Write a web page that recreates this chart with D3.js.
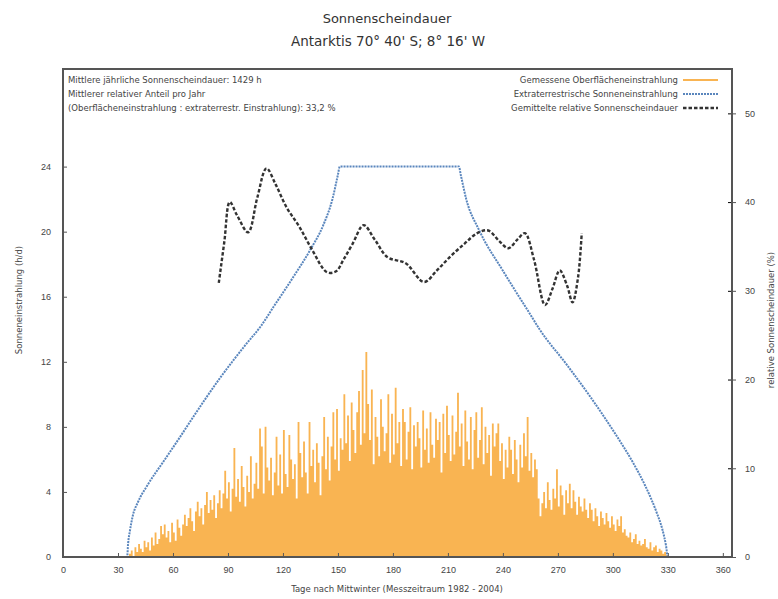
<!DOCTYPE html>
<html lang="de">
<head>
<meta charset="UTF-8">
<title>Sonnenscheindauer Antarktis</title>
<script src="https://cdnjs.cloudflare.com/ajax/libs/d3/7.8.5/d3.min.js"></script>
<style>
  body { margin: 0; background: #fff; }
  svg { font-family: "DejaVu Sans", Verdana, sans-serif; }
</style>
</head>
<body>
<div id="chart"></div>
<script>
// gemessene Oberflächeneinstrahlung (h/d), one value per day starting at day 36
const firstDay = 36;
const measured = [
  0.2,0.4,0,0.6,0.3,0.8,0.5,0.3,1.0,0.6,
  0.9,0.4,1.2,0.7,1.5,0.8,1.1,1.9,1.4,2.0,
  1.2,1.6,0.9,2.1,1.5,1.0,2.3,1.8,1.3,2.0,
  2.6,1.9,2.4,3.0,2.2,1.6,2.8,3.4,2.5,3.0,
  2.0,3.2,4.0,2.7,3.5,2.9,3.8,2.4,3.3,4.1,
  3.0,3.9,5.3,3.6,4.6,2.8,4.2,6.7,3.7,4.8,
  3.4,5.6,4.3,3.1,5.0,4.0,6.2,3.6,4.5,5.8,
  4.2,7.9,6.8,3.9,8.0,5.5,4.7,6.1,3.8,5.2,
  7.4,4.4,6.3,3.9,7.8,5.1,4.3,7.5,6.0,4.8,
  5.7,3.6,8.3,6.4,4.9,7.1,5.2,3.9,8.3,5.6,
  6.6,4.6,7.0,5.8,3.8,6.2,8.6,5.4,7.4,4.7,
  6.8,8.9,6.0,9.1,5.3,7.3,6.6,10.0,7.0,8.7,
  5.9,9.5,7.8,6.4,8.9,10.2,6.9,11.5,7.6,12.6,
  9.4,7.2,10.3,5.7,8.6,7.4,6.2,9.7,8.0,6.5,
  7.6,10.0,5.8,8.8,6.3,10.4,7.0,8.3,5.6,9.1,
  8.3,6.0,7.7,9.2,5.4,8.1,6.8,8.3,7.3,5.5,
  9.0,6.6,7.9,5.8,8.9,6.9,6.1,8.5,7.2,8.3,
  5.2,8.8,6.4,9.3,7.5,5.9,8.7,6.3,7.7,10.1,
  6.8,8.2,5.6,9.0,7.1,6.0,8.6,5.4,7.8,8.9,
  6.1,7.2,9.2,5.7,8.0,6.4,7.5,5.0,8.2,6.8,
  7.6,8.2,5.9,7.0,4.8,6.6,5.5,7.4,6.6,5.1,
  7.2,6.0,4.6,6.9,5.5,7.6,6.2,8.6,5.3,6.4,
  4.9,6.0,5.4,3.6,2.5,3.3,4.0,3.0,4.6,3.5,
  2.9,4.2,3.6,5.4,3.1,4.4,3.8,2.6,4.1,3.3,
  4.5,3.0,4.1,3.4,2.6,3.7,3.1,2.8,3.6,2.9,
  2.4,3.3,2.9,2.2,3.0,2.5,1.9,2.8,2.4,2.0,
  2.7,2.2,1.8,2.5,2.0,1.6,2.3,1.9,2.5,1.5,
  1.7,1.3,1.2,1.5,0.9,1.1,1.4,0.8,1.0,0.7,
  0.8,1.1,0.6,0.5,0.9,0.4,0.6,0.7,0.3,0.5,
  0.4,0.2,0.3,0.1,0
];

// extraterrestrische Sonneneinstrahlung (h/d)
const extraDays = [0, 35, 35.5, 36.5, 38, 41, 46, 55, 64, 71, 85, 100, 108, 115, 125, 135, 142, 147, 150, 151,
  216, 217, 220, 227, 240, 255, 260, 275, 288, 300, 311, 318, 324, 327, 329, 330, 365];
const extraVals = [0, 0, 0.8, 1.6, 2.5, 3.4, 4.4, 5.9, 7.4, 8.6, 10.9, 13.1, 14.2, 15.4, 17.1, 18.9, 20.4, 22.0, 23.5, 24,
  24, 23.5, 22.0, 20.1, 17.6, 14.9, 14.0, 11.8, 9.8, 7.8, 5.8, 4.3, 2.7, 1.7, 0.7, 0, 0];

// gemittelte relative Sonnenscheindauer (%)
const relDays = [85, 88, 91, 95, 101, 106, 111, 116, 122, 129, 136, 144, 149, 153, 158, 164, 170, 177,
  187, 197, 204, 211, 219, 226, 232, 238, 243, 248, 252, 257, 263, 267, 271, 275, 278, 281, 283];
const relVals = [30.9, 35.5, 40.0, 38.5, 36.6, 40.5, 43.8, 42.0, 39.4, 37.2, 34.6, 32.1, 32.2, 33.5, 35.3, 37.4, 35.8, 33.8,
  33.1, 31.0, 32.3, 33.8, 35.3, 36.5, 36.8, 35.6, 34.8, 35.8, 36.5, 33.5, 28.4, 30.2, 32.3, 30.6, 28.7, 31.5, 36.5];

const xTicks = d3.range(0, 361, 30);
const yTicks = [0, 4, 8, 12, 16, 20, 24];
const y2Ticks = [0, 10, 20, 30, 40, 50];

const infoLines = [
  "Mittlere jährliche Sonnenscheindauer: 1429 h",
  "Mittlerer relativer Anteil pro Jahr",
  "(Oberflächeneinstrahlung : extraterrestr. Einstrahlung): 33,2 %"
];
const legendItems = [
  { label: "Gemessene Oberflächeneinstrahlung", key: "measured" },
  { label: "Extraterrestrische Sonneneinstrahlung", key: "extra" },
  { label: "Gemittelte relative Sonnenscheindauer", key: "rel" }
];

const width = 778, height = 599;
const margin = { top: 69, right: 46, bottom: 42, left: 63 };
const iw = width - margin.left - margin.right;
const ih = height - margin.top - margin.bottom;

const orange = "#f9b452";
const blue = "#5a86bd";
const dark = "#333";
const axisCol = "#555";

const svg = d3.select("#chart").append("svg")
  .attr("width", width)
  .attr("height", height);

const g = svg.append("g")
  .attr("transform", `translate(${margin.left},${margin.top})`);

const x = d3.scaleLinear().domain([0, 365]).range([0, iw]);
const y = d3.scaleLinear().domain([0, 30]).range([ih, 0]);
const y2 = d3.scaleLinear().domain([0, 55]).range([ih, 0]);

// measured values, one step per day
const measuredData = measured.map((v, i) => ({ day: firstDay + i, v }));
measuredData.push({ day: firstDay + measured.length, v: 0 });

g.append("path")
  .datum(measuredData)
  .attr("fill", orange)
  .attr("d", d3.area()
    .curve(d3.curveStepAfter)
    .x(d => x(d.day))
    .y0(y(0))
    .y1(d => y(d.v)));

// extraterrestrial
const extraData = extraDays.map((d, i) => ({ day: d, v: extraVals[i] }));
g.append("path")
  .datum(extraData)
  .attr("fill", "none")
  .attr("stroke", blue)
  .attr("stroke-width", 2)
  .attr("stroke-dasharray", "2,1")
  .attr("d", d3.line().curve(d3.curveMonotoneX).x(d => x(d.day)).y(d => y(d.v)));

// relative sunshine
const relData = relDays.map((d, i) => ({ day: d, v: relVals[i] }));
g.append("path")
  .datum(relData)
  .attr("fill", "none")
  .attr("stroke", dark)
  .attr("stroke-width", 2.4)
  .attr("stroke-dasharray", "3.5,2")
  .attr("d", d3.line().curve(d3.curveCatmullRom).x(d => x(d.day)).y(d => y2(d.v)));

// axes
const xAxis = g.append("g")
  .attr("transform", `translate(0,${ih})`)
  .call(d3.axisBottom(x).tickValues(xTicks).tickSize(-4).tickPadding(10));
const yAxis = g.append("g")
  .call(d3.axisLeft(y).tickValues(yTicks).tickSize(-4).tickPadding(12));
const y2Axis = g.append("g")
  .attr("transform", `translate(${iw},0)`)
  .call(d3.axisRight(y2).tickValues(y2Ticks).tickSize(4).tickPadding(9));
g.append("g")
  .attr("transform", `translate(${iw},0)`)
  .call(d3.axisRight(y2).tickValues(y2Ticks).tickSize(-4).tickFormat(""))
  .select(".domain").remove();

[xAxis, yAxis, y2Axis].forEach(a => {
  a.selectAll("text").attr("font-size", 9).attr("fill", "#444").attr("font-family", null);
  a.selectAll("line").attr("stroke", axisCol);
  a.select(".domain").remove();
});

// frame
g.append("rect")
  .attr("width", iw)
  .attr("height", ih)
  .attr("fill", "none")
  .attr("stroke", axisCol)
  .attr("stroke-width", 2);

// titles
svg.append("text")
  .attr("x", 387).attr("y", 23)
  .attr("text-anchor", "middle")
  .attr("font-size", 13).attr("fill", "#333")
  .text("Sonnenscheindauer");
svg.append("text")
  .attr("x", 388).attr("y", 46)
  .attr("text-anchor", "middle")
  .attr("font-size", 13.5).attr("fill", "#333")
  .text("Antarktis 70° 40' S; 8° 16' W");

svg.append("text")
  .attr("x", 397).attr("y", 592)
  .attr("text-anchor", "middle")
  .attr("font-size", 8.5).attr("fill", "#444")
  .text("Tage nach Mittwinter (Messzeitraum 1982 - 2004)");

svg.append("text")
  .attr("transform", "translate(22,300) rotate(-90)")
  .attr("text-anchor", "middle")
  .attr("font-size", 8.5).attr("fill", "#444")
  .text("Sonneneinstrahlung (h/d)");

svg.append("text")
  .attr("transform", "translate(774,320) rotate(-90)")
  .attr("text-anchor", "middle")
  .attr("font-size", 8.5).attr("fill", "#444")
  .text("relative Sonnenscheindauer (%)");

// info text
g.selectAll(".info")
  .data(infoLines)
  .enter().append("text")
  .attr("class", "info")
  .attr("x", 5)
  .attr("y", (d, i) => 14 + i * 14)
  .attr("font-size", 8.5).attr("fill", "#444")
  .text(d => d);

// legend
const leg = g.selectAll(".leg")
  .data(legendItems)
  .enter().append("g")
  .attr("class", "leg")
  .attr("transform", (d, i) => `translate(${iw - 54},${14 + i * 14})`);

leg.append("text")
  .attr("x", 0)
  .attr("text-anchor", "end")
  .attr("font-size", 8.5).attr("fill", "#444")
  .text(d => d.label);

leg.append("line")
  .attr("x1", 5).attr("x2", 40)
  .attr("y1", -3).attr("y2", -3)
  .attr("stroke", d => d.key === "measured" ? orange : d.key === "extra" ? blue : dark)
  .attr("stroke-width", d => d.key === "rel" ? 2.4 : 2)
  .attr("stroke-dasharray", d => d.key === "measured" ? null : d.key === "extra" ? "2,1" : "3.5,2");
</script>
</body>
</html>
